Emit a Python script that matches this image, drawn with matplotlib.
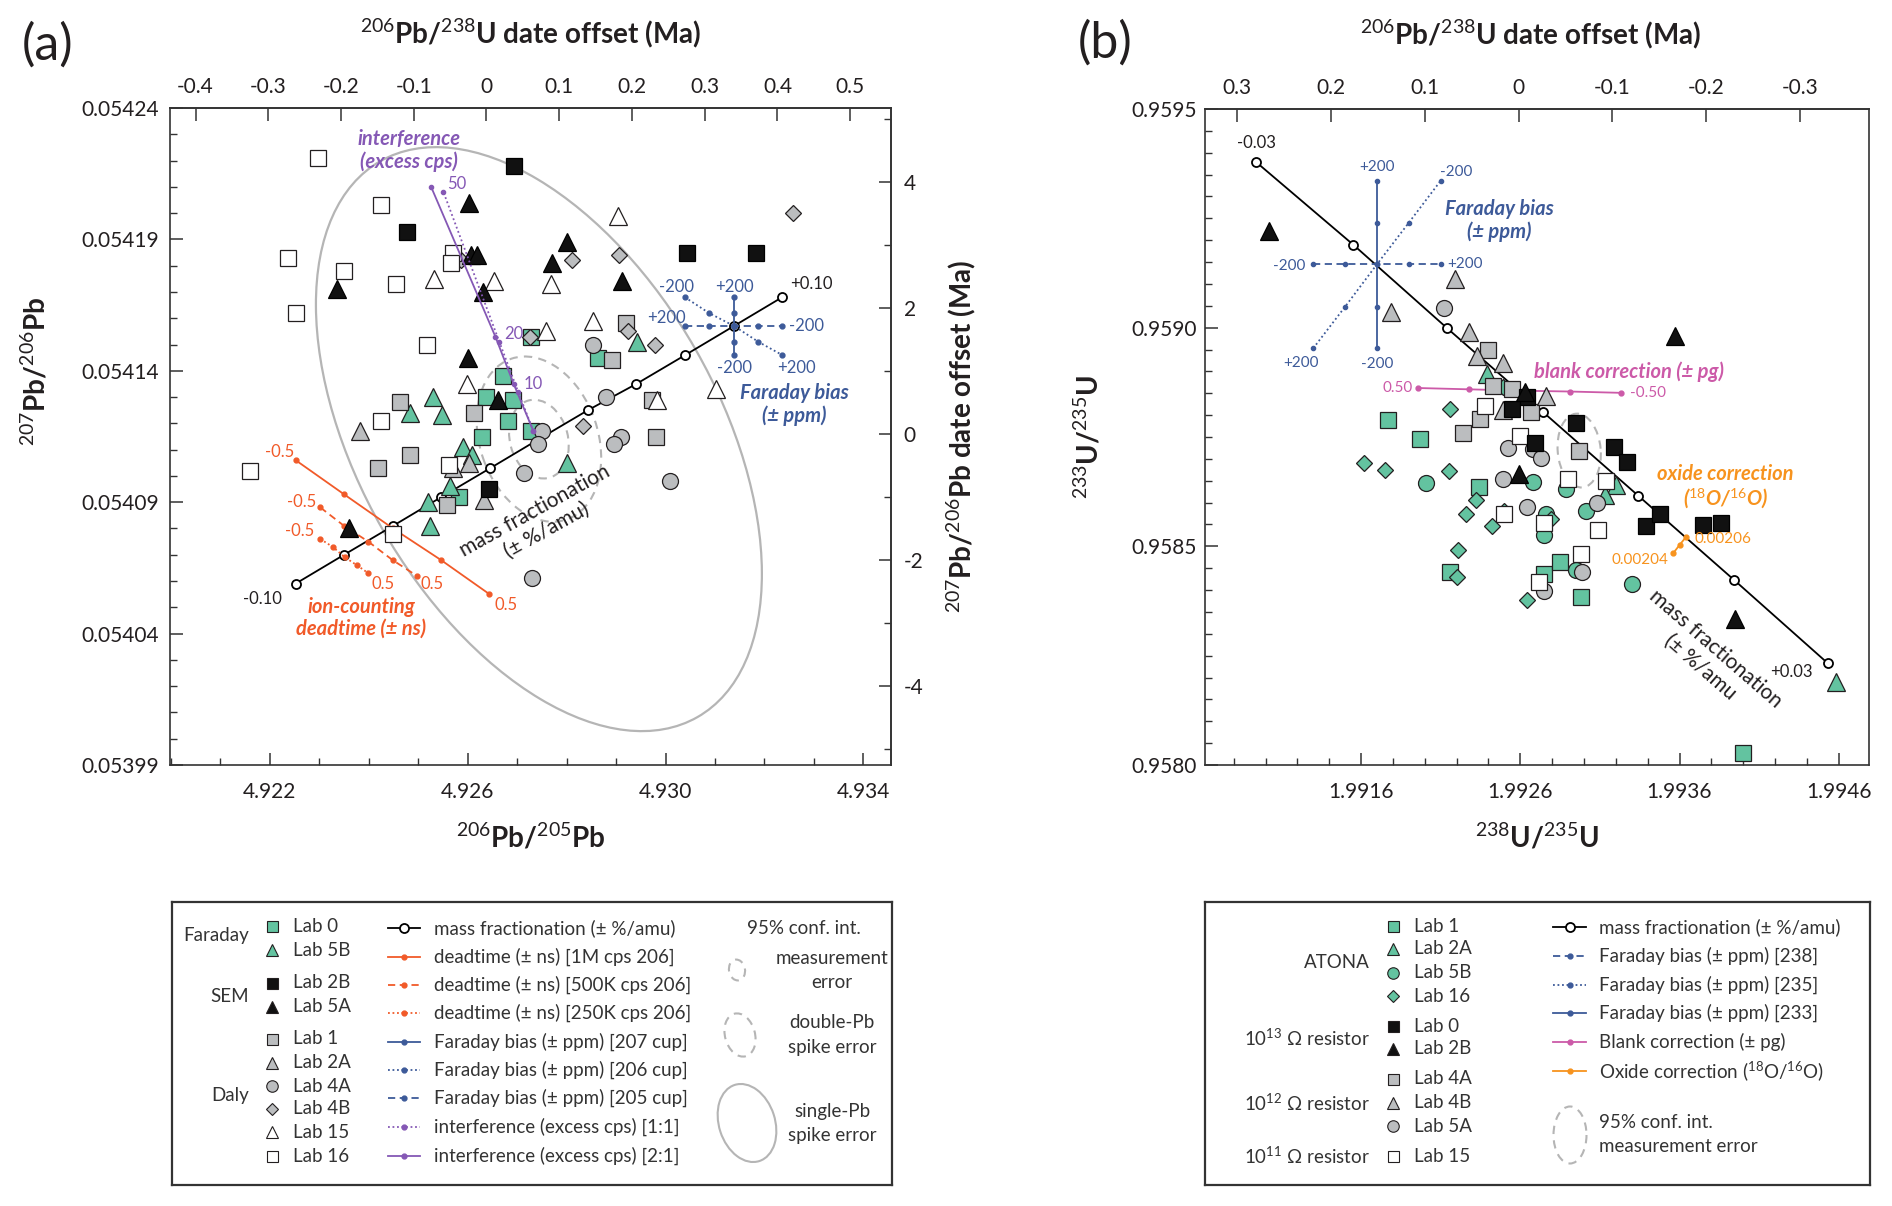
"""Pb (a) and U (b) isotope-ratio panels with correction vectors and error ellipses."""

import matplotlib

matplotlib.use("Agg")
import matplotlib.pyplot as plt
import matplotlib.transforms as mtransforms
from matplotlib.patches import Ellipse
from matplotlib.ticker import MultipleLocator, FixedLocator, FormatStrFormatter, FuncFormatter

plt.rcParams["font.family"] = ["Lato", "DejaVu Sans"]
plt.rcParams["mathtext.fontset"] = "custom"
plt.rcParams["mathtext.rm"] = "Lato"
plt.rcParams["mathtext.it"] = "Lato:italic"
plt.rcParams["mathtext.bf"] = "Lato:bold"
plt.rcParams["axes.unicode_minus"] = False

W, H = 1892, 1206
GREEN = "#63c3a0"
GRAY = "#bbbdbf"
BLACK = "#111111"
WHITE = "#ffffff"
EDGE = "#231f20"
RED = "#f15a29"
BLUE = "#3d5a99"
PURPLE = "#8558b5"
PINK = "#cc5aa8"
ORANGE = "#f7931e"
ELL = "#b5b5b5"
TXT = "#231f20"

# ---------------- panel (a): 206Pb/205Pb vs 207Pb/206Pb ----------------
a_lab0_x = [4.92671, 4.92637, 4.92691, 4.92681, 4.92629, 4.92727, 4.92582, 4.92729, 4.92863]
a_lab0_y = [0.054138, 0.054130, 0.054129, 0.054121, 0.054115, 0.054117, 0.054092, 0.054153, 0.054145]
a_lab5b_x = [4.92530, 4.92483, 4.92548, 4.92590, 4.92609, 4.92801, 4.92565, 4.92520, 4.92524, 4.92942]
a_lab5b_y = [0.054130, 0.054124, 0.054123, 0.054111, 0.054108, 0.054105, 0.054096, 0.054090, 0.054081, 0.054151]
a_lab1_x = [4.92921, 4.92892, 4.92464, 4.92613, 4.92484, 4.92418, 4.92559, 4.92972, 4.92981]
a_lab1_y = [0.054158, 0.054144, 0.054128, 0.054124, 0.054108, 0.054103, 0.054089, 0.054129, 0.054115]
a_lab2a_x = [4.92383, 4.92602, 4.92633, 4.92571]
a_lab2a_y = [0.054117, 0.054105, 0.054091, 0.054103]
a_lab4a_x = [4.92853, 4.92879, 4.92750, 4.92743, 4.92714, 4.92910, 4.92896, 4.93010, 4.92731]
a_lab4a_y = [0.054150, 0.054130, 0.054117, 0.054112, 0.054101, 0.054115, 0.054112, 0.054098, 0.054061]
a_lab4b_x = [4.92811, 4.92905, 4.92726, 4.92924, 4.92979, 4.92834, 4.93258, 4.92586]
a_lab4b_y = [0.054182, 0.054184, 0.054153, 0.054155, 0.054150, 0.054119, 0.054200, 0.054182]
a_lab15_x = [4.92904, 4.92532, 4.92654, 4.92768, 4.92853, 4.92759, 4.92598, 4.92983, 4.93103]
a_lab15_y = [0.054199, 0.054175, 0.054174, 0.054173, 0.054159, 0.054155, 0.054135, 0.054129, 0.054133]
a_lab16_x = [4.92298, 4.92425, 4.92236, 4.92350, 4.92456, 4.92253, 4.92518, 4.92425, 4.92159,
             4.92563, 4.92571, 4.92567, 4.92448]
a_lab16_y = [0.054221, 0.054203, 0.054183, 0.054178, 0.054173, 0.054162, 0.054150, 0.054121, 0.054102,
             0.054104, 0.054185, 0.054181, 0.054078]
a_lab2b_x = [4.92693, 4.92478, 4.92644, 4.93044, 4.93182]
a_lab2b_y = [0.054218, 0.054193, 0.054095, 0.054185, 0.054185]
a_lab5a_x = [4.92602, 4.92335, 4.92606, 4.92619, 4.92631, 4.92801, 4.92770, 4.92913, 4.92600, 4.92662, 4.92359]
a_lab5a_y = [0.054204, 0.054171, 0.054184, 0.054184, 0.054170, 0.054189, 0.054181, 0.054174, 0.054145,
             0.054129, 0.054080]

# mass fractionation, -0.10 ... +0.10 %/amu
a_mf_x = [4.92252, 4.92350, 4.92449, 4.92547, 4.92646, 4.92744, 4.92843, 4.92941, 4.93040, 4.93138, 4.93236]
a_mf_y = [0.054059, 0.054070, 0.054081, 0.054092, 0.054103, 0.054114, 0.054125, 0.054135, 0.054146,
          0.054157, 0.054168]
# ion-counting deadtime, -0.5 ... +0.5 ns
a_dt1m_x = [4.92252, 4.92350, 4.92449, 4.92546, 4.92644]
a_dt1m_y = [0.054106, 0.054093, 0.054080, 0.054068, 0.054055]
a_dt500_x = [4.92302, 4.92350, 4.92399, 4.92448, 4.92497]
a_dt500_y = [0.054088, 0.054081, 0.054075, 0.054068, 0.054062]
a_dt250_x = [4.92302, 4.92327, 4.92352, 4.92376, 4.92399]
a_dt250_y = [0.054076, 0.054073, 0.054069, 0.054066, 0.054063]
# Faraday bias, +200 ... -200 ppm
a_fb207_x = [4.93139, 4.93139, 4.93139, 4.93139, 4.93139]
a_fb207_y = [0.054168, 0.054162, 0.054157, 0.054151, 0.054146]
a_fb206_x = [4.93039, 4.93088, 4.93139, 4.93188, 4.93236]
a_fb206_y = [0.054168, 0.054162, 0.054157, 0.054151, 0.054146]
a_fb205_x = [4.93039, 4.93088, 4.93139, 4.93188, 4.93236]
a_fb205_y = [0.054157, 0.054157, 0.054157, 0.054157, 0.054157]
# interference, 0 / 10 / 20 / 50 excess cps
a_int11_x = [4.92733, 4.92702, 4.92664, 4.92551]
a_int11_y = [0.054117, 0.054132, 0.054151, 0.054208]
a_int21_x = [4.92733, 4.92693, 4.92656, 4.92526]
a_int21_y = [0.054117, 0.054135, 0.054153, 0.054210]
a_center = (4.92744, 0.054114)

a_xticks = [4.922, 4.926, 4.930, 4.934]
a_yticks = [0.05399, 0.05404, 0.05409, 0.05414, 0.05419, 0.05424]
a_top_ticks = [-0.4, -0.3, -0.2, -0.1, 0, 0.1, 0.2, 0.3, 0.4, 0.5]
a_right_ticks = [-4, -2, 0, 2, 4]

# ---------------- panel (b): 238U/235U vs 233U/235U ----------------
b_lab1_x = [1.99177, 1.99197, 1.99234, 1.99216, 1.99275, 1.99285, 1.99298, 1.99400]
b_lab1_y = [0.958789, 0.958746, 0.958636, 0.958442, 0.958437, 0.958465, 0.958385, 0.958028]
b_lab2a_x = [1.99239, 1.99320, 1.99313, 1.99458]
b_lab2a_y = [0.958893, 0.958641, 0.958617, 0.958189]
b_lab5b_x = [1.99201, 1.99268, 1.99289, 1.99301, 1.99276, 1.99275, 1.99295, 1.99330]
b_lab5b_y = [0.958644, 0.958647, 0.958631, 0.958580, 0.958573, 0.958527, 0.958445, 0.958414]
b_lab16_x = [1.99216, 1.99249, 1.99162, 1.99175, 1.99215, 1.99232, 1.99226, 1.99242, 1.99250, 1.99279,
             1.99221, 1.99220, 1.99264]
b_lab16_y = [0.958813, 0.958864, 0.958690, 0.958675, 0.958673, 0.958607, 0.958573, 0.958547, 0.958580,
             0.958562, 0.958491, 0.958431, 0.958378]
b_lab4a_x = [1.99240, 1.99243, 1.99255, 1.99267, 1.99235, 1.99224, 1.99297]
b_lab4a_y = [0.958949, 0.958866, 0.958859, 0.958808, 0.958792, 0.958760, 0.958719]
b_lab4b_x = [1.99219, 1.99179, 1.99228, 1.99233, 1.99249, 1.99276, 1.99249]
b_lab4b_y = [0.959111, 0.959036, 0.958990, 0.958936, 0.958919, 0.958844, 0.958811]
b_lab5a_x = [1.99212, 1.99252, 1.99268, 1.99273, 1.99249, 1.99264, 1.99308, 1.99299, 1.99275]
b_lab5a_y = [0.959046, 0.958724, 0.958723, 0.958703, 0.958654, 0.958590, 0.958598, 0.958442, 0.958399]
b_lab15_x = [1.99238, 1.99260, 1.99290, 1.99314, 1.99309, 1.99298, 1.99272, 1.99250, 1.99275]
b_lab15_y = [0.958821, 0.958752, 0.958654, 0.958649, 0.958537, 0.958483, 0.958419, 0.958573, 0.958554]
b_lab0_x = [1.99264, 1.99255, 1.99295, 1.99269, 1.99319, 1.99327, 1.99339, 1.99348, 1.99375, 1.99386]
b_lab0_y = [0.958842, 0.958813, 0.958782, 0.958736, 0.958726, 0.958693, 0.958547, 0.958573, 0.958549, 0.958554]
b_lab2b_x = [1.99357, 1.99259, 1.99395, 1.99263, 1.99102]
b_lab2b_y = [0.958982, 0.958665, 0.958334, 0.958854, 0.959222]

# mass fractionation, -0.03 ... +0.03 %/amu
b_mf_x = [1.99094, 1.99155, 1.99214, 1.99274, 1.99334, 1.99394, 1.99453]
b_mf_y = [0.959379, 0.959190, 0.958999, 0.958808, 0.958616, 0.958424, 0.958233]
# Faraday bias, ppm
b_fb233_x = [1.99170, 1.99170, 1.99170, 1.99170, 1.99170]
b_fb233_y = [0.959336, 0.959240, 0.959145, 0.959048, 0.958953]
b_fb238_x = [1.99130, 1.99150, 1.99170, 1.99190, 1.99210]
b_fb238_y = [0.959145, 0.959145, 0.959145, 0.959145, 0.959145]
b_fb235_x = [1.99130, 1.99150, 1.99170, 1.99190, 1.99210]
b_fb235_y = [0.958953, 0.959048, 0.959145, 0.959240, 0.959336]
# blank correction, 0.50 ... -0.50 pg ; oxide correction 0.00204 ... 0.00206
b_blank_x = [1.99196, 1.99228, 1.99259, 1.99291, 1.99323]
b_blank_y = [0.958862, 0.958859, 0.958856, 0.958854, 0.958851]
b_oxide_x = [1.99356, 1.99360, 1.99364]
b_oxide_y = [0.958484, 0.958503, 0.958521]
b_center = (1.99297, 0.958719)

b_xticks = [1.9916, 1.9926, 1.9936, 1.9946]
b_yticks = [0.9580, 0.9585, 0.9590, 0.9595]
b_top_ticks = [0.3, 0.2, 0.1, 0, -0.1, -0.2, -0.3]

# marker style per lab: (marker, size)
SQ, TRI, CIR, DIA = ("s", 11), ("^", 12.5), ("o", 11.5), ("D", 8)

a_series = [
    ("Lab 0", a_lab0_x, a_lab0_y, SQ, GREEN), ("Lab 5B", a_lab5b_x, a_lab5b_y, TRI, GREEN),
    ("Lab 1", a_lab1_x, a_lab1_y, SQ, GRAY), ("Lab 2A", a_lab2a_x, a_lab2a_y, TRI, GRAY),
    ("Lab 4A", a_lab4a_x, a_lab4a_y, CIR, GRAY), ("Lab 4B", a_lab4b_x, a_lab4b_y, DIA, GRAY),
    ("Lab 15", a_lab15_x, a_lab15_y, TRI, WHITE), ("Lab 16", a_lab16_x, a_lab16_y, SQ, WHITE),
    ("Lab 2B", a_lab2b_x, a_lab2b_y, SQ, BLACK), ("Lab 5A", a_lab5a_x, a_lab5a_y, TRI, BLACK),
]
b_series = [
    ("Lab 1", b_lab1_x, b_lab1_y, SQ, GREEN), ("Lab 2A", b_lab2a_x, b_lab2a_y, TRI, GREEN),
    ("Lab 5B", b_lab5b_x, b_lab5b_y, CIR, GREEN), ("Lab 16", b_lab16_x, b_lab16_y, DIA, GREEN),
    ("Lab 4A", b_lab4a_x, b_lab4a_y, SQ, GRAY), ("Lab 4B", b_lab4b_x, b_lab4b_y, TRI, GRAY),
    ("Lab 5A", b_lab5a_x, b_lab5a_y, CIR, GRAY), ("Lab 15", b_lab15_x, b_lab15_y, SQ, WHITE),
    ("Lab 0", b_lab0_x, b_lab0_y, SQ, BLACK), ("Lab 2B", b_lab2b_x, b_lab2b_y, TRI, BLACK),
]


def rect(x0, y0, x1, y1):
    return [x0 / W, 1 - y1 / H, (x1 - x0) / W, (y1 - y0) / H]


def scatter_labs(ax, series):
    for _, xs, ys, (m, ms), face in series:
        ax.plot(xs, ys, ls="none", marker=m, ms=ms, mfc=face,
                mec=EDGE if face != BLACK else "black", mew=0.9, zorder=3)


def vector(ax, xs, ys, color, ls, z=2.6, ms=3.5):
    ax.plot(xs, ys, color=color, ls=ls, lw=1.3, marker="o", ms=ms, mfc=color, mec=color, zorder=z)


def px_ellipse(ax, center, w, h, angle, dashed=True, lw=1.5):
    tr = mtransforms.ScaledTranslation(center[0], center[1], ax.transData)
    e = Ellipse((0, 0), w, h, angle=angle, transform=tr, fill=False, ec=ELL, lw=lw,
                ls=(0, (4, 3)) if dashed else "-", zorder=1)
    ax.add_artist(e)


def style_axis(ax):
    for s in ax.spines.values():
        s.set_linewidth(1.2)
        s.set_color("#333333")
    ax.tick_params(which="both", direction="in", colors="#333333", labelcolor=TXT, labelsize=15)
    ax.tick_params(which="major", length=9, width=1.1)
    ax.tick_params(which="minor", length=5, width=1.0)


def num_fmt(decimals):
    return FuncFormatter(lambda v, _: "0" if abs(v) < 1e-9 else f"{v:.{decimals}f}")


fig = plt.figure(figsize=(W / 100, H / 100), dpi=100)

# ===================== panel (a) =====================
ax = fig.add_axes(rect(170, 108, 891, 765))
scatter_labs(ax, a_series)
ax.plot(a_mf_x, a_mf_y, color="black", lw=1.3, marker="o", ms=6.5, mfc="white", mec="black",
        mew=1.3, zorder=2.5)
vector(ax, a_dt1m_x, a_dt1m_y, RED, "-")
vector(ax, a_dt500_x, a_dt500_y, RED, (0, (4, 2.5)))
vector(ax, a_dt250_x, a_dt250_y, RED, (0, (1, 1.5)))
vector(ax, a_fb207_x, a_fb207_y, BLUE, "-", z=4)
vector(ax, a_fb206_x, a_fb206_y, BLUE, (0, (1, 1.5)), z=4)
vector(ax, a_fb205_x, a_fb205_y, BLUE, (0, (4, 2.5)), z=4)
vector(ax, a_int11_x, a_int11_y, PURPLE, (0, (1, 1.5)), z=4, ms=3)
vector(ax, a_int21_x, a_int21_y, PURPLE, "-", z=4, ms=3)

ax.set_xlim(4.91998, 4.93456)
ax.set_ylim(0.05399, 0.05424)
px_ellipse(ax, a_center, 640, 361, -60.3, dashed=False, lw=1.6)
px_ellipse(ax, a_center, 170, 118, -71)
px_ellipse(ax, a_center, 80, 58, -75)

small = dict(fontsize=12, ha="center", va="center", zorder=6)
ax.text(4.92185, 0.054053, "-0.10", color=TXT, **small)
ax.text(4.93294, 0.054173, "+0.10", color=TXT, **small)
for xx, yy, s in [(4.92219, 0.054109, "-0.5"), (4.92265, 0.054090, "-0.5"), (4.92261, 0.054079, "-0.5"),
                  (4.92678, 0.054051, "0.5"), (4.92528, 0.054059, "0.5"), (4.92428, 0.054059, "0.5")]:
    ax.text(xx, yy, s, color=RED, **small)
for xx, yy, s in [(4.93139, 0.054172, "+200"), (4.93139, 0.054141, "-200"), (4.93002, 0.054160, "+200"),
                  (4.93285, 0.054157, "-200"), (4.93022, 0.054172, "-200"), (4.93264, 0.054141, "+200")]:
    ax.text(xx, yy, s, color=BLUE, **small)
for xx, yy, s in [(4.92577, 0.054211, "50"), (4.92693, 0.054154, "20"), (4.92732, 0.054135, "10")]:
    ax.text(xx, yy, s, color=PURPLE, **small)

title_kw = dict(fontsize=14.5, fontweight="bold", style="italic", ha="center", va="center",
                linespacing=1.15, zorder=6)
ax.text(4.92482, 0.054224, "interference\n(excess cps)", color=PURPLE, **title_kw)
ax.text(4.93261, 0.054127, "Faraday bias\n(± ppm)", color=BLUE, **title_kw)
ax.text(4.92385, 0.054046, "ion-counting\ndeadtime (± ns)", color=RED, **title_kw)
ax.text(4.92748, 0.054083, "mass fractionation\n(± %/amu)", color=TXT, fontsize=15, rotation=29,
        ha="center", va="center", rotation_mode="anchor", linespacing=1.2, zorder=6)

style_axis(ax)
ax.tick_params(top=False, right=False, pad=8)
ax.tick_params(axis="x", pad=12)
ax.xaxis.set_major_locator(FixedLocator(a_xticks))
ax.xaxis.set_minor_locator(MultipleLocator(0.001))
ax.xaxis.set_major_formatter(FormatStrFormatter("%.3f"))
ax.yaxis.set_major_locator(FixedLocator(a_yticks))
ax.yaxis.set_minor_locator(MultipleLocator(0.00001))
ax.yaxis.set_major_formatter(FormatStrFormatter("%.5f"))

top_a = ax.secondary_xaxis("top", functions=(lambda x: (x - 4.92638) / 0.01471,
                                             lambda m: m * 0.01471 + 4.92638))
top_a.set_xticks(a_top_ticks)
top_a.xaxis.set_major_formatter(num_fmt(1))
style_axis(top_a)
top_a.tick_params(pad=8)

right_a = ax.secondary_yaxis("right", functions=(lambda y: (y - 0.054116) / 0.000024,
                                                 lambda m: m * 0.000024 + 0.054116))
right_a.set_yticks(a_right_ticks)
right_a.yaxis.set_minor_locator(MultipleLocator(1))
right_a.yaxis.set_major_formatter(num_fmt(0))
style_axis(right_a)
right_a.tick_params(pad=9)

lab_kw = dict(fontsize=20, fontweight="bold", ha="center", va="center", color=TXT)
ax.text(0.5, -0.110, r"$^{206}$Pb/$^{205}$Pb", transform=ax.transAxes, **lab_kw)
ax.text(0.5, 1.114, r"$^{206}$Pb/$^{238}$U date offset (Ma)", transform=ax.transAxes, **lab_kw)
ax.text(-0.186, 0.6, r"$^{207}$Pb/$^{206}$Pb", transform=ax.transAxes, rotation=90, **lab_kw)
ax.text(1.097, 0.5, r"$^{207}$Pb/$^{206}$Pb date offset (Ma)", transform=ax.transAxes, rotation=90,
        **lab_kw)

# ===================== panel (b) =====================
bx = fig.add_axes(rect(1205, 109, 1869, 765))
scatter_labs(bx, b_series)
bx.plot(b_mf_x, b_mf_y, color="black", lw=1.3, marker="o", ms=6.5, mfc="white", mec="black",
        mew=1.3, zorder=2.5)
vector(bx, b_fb233_x, b_fb233_y, BLUE, "-", ms=3)
vector(bx, b_fb238_x, b_fb238_y, BLUE, (0, (4, 2.5)), ms=3)
vector(bx, b_fb235_x, b_fb235_y, BLUE, (0, (1, 1.5)), ms=3)
vector(bx, b_blank_x, b_blank_y, PINK, "-", ms=3.5)
vector(bx, b_oxide_x, b_oxide_y, ORANGE, "-", z=4, ms=3.5)

bx.set_xlim(1.99062, 1.99479)
bx.set_ylim(0.9580, 0.9595)
px_ellipse(bx, b_center, 74, 43, 95)

smallb = dict(fontsize=11, ha="center", va="center", zorder=6)
bx.text(1.99094, 0.959422, "-0.03", color=TXT, fontsize=12, ha="center", va="center")
bx.text(1.99430, 0.958212, "+0.03", color=TXT, fontsize=12, ha="center", va="center")
for xx, yy, s in [(1.99170, 0.959368, "+200"), (1.99170, 0.958918, "-200"), (1.99115, 0.959141, "-200"),
                  (1.99225, 0.959145, "+200"), (1.99220, 0.959357, "-200"), (1.99122, 0.958920, "+200")]:
    bx.text(xx, yy, s, color=BLUE, **smallb)
bx.text(1.99183, 0.958862, "0.50", color=PINK, **smallb)
bx.text(1.99340, 0.958851, "-0.50", color=PINK, **smallb)
bx.text(1.99335, 0.958468, "0.00204", color=ORANGE, **smallb)
bx.text(1.99387, 0.958516, "0.00206", color=ORANGE, **smallb)

bx.text(1.99247, 0.959244, "Faraday bias\n(± ppm)", color=BLUE, **title_kw)
bx.text(1.99328, 0.958900, "blank correction (± pg)", color=PINK, **title_kw)
bx.text(1.99389, 0.958635, "oxide correction\n" + r"($^{18}$O/$^{16}$O)", color=ORANGE, **title_kw)
bx.text(1.99378, 0.958245, "mass fractionation\n(± %/amu", color=TXT, fontsize=15, rotation=-41,
        ha="center", va="center", rotation_mode="anchor", linespacing=1.2, zorder=6)

style_axis(bx)
bx.tick_params(top=False, right=False, pad=6)
bx.tick_params(axis="x", pad=12)
bx.xaxis.set_major_locator(FixedLocator(b_xticks))
bx.xaxis.set_minor_locator(MultipleLocator(0.0002))
bx.xaxis.set_major_formatter(FormatStrFormatter("%.4f"))
bx.yaxis.set_major_locator(FixedLocator(b_yticks))
bx.yaxis.set_minor_locator(MultipleLocator(0.00005))
bx.yaxis.set_major_formatter(FormatStrFormatter("%.4f"))

top_b = bx.secondary_xaxis("top", functions=(lambda x: (1.99259 - x) * 169.8,
                                             lambda m: 1.99259 - m / 169.8))
top_b.set_xticks(b_top_ticks)
top_b.xaxis.set_major_formatter(num_fmt(1))
style_axis(top_b)
top_b.tick_params(pad=8)

bx.text(0.5, -0.110, r"$^{238}$U/$^{235}$U", transform=bx.transAxes, **lab_kw)
bx.text(0.49, 1.114, r"$^{206}$Pb/$^{238}$U date offset (Ma)", transform=bx.transAxes, **lab_kw)
bx.text(-0.176, 0.5, r"$^{233}$U/$^{235}$U", transform=bx.transAxes, rotation=90, **lab_kw)

fig.text(48 / W, 1 - 45 / H, "(a)", fontsize=36, ha="center", va="center", color=TXT)
fig.text(1105 / W, 1 - 43 / H, "(b)", fontsize=36, ha="center", va="center", color=TXT)

# ===================== legends =====================
LEG_FS = 13.5
LEG_C = "#333333"


def legend_box(x0, x1):
    lg = fig.add_axes(rect(x0, 902, x1, 1185))
    lg.set_xlim(0, x1 - x0)
    lg.set_ylim(283, 0)
    lg.set_xticks([])
    lg.set_yticks([])
    for s in lg.spines.values():
        s.set_linewidth(1.6)
        s.set_color("#333333")
    return lg


def leg_marker(lg, x, y, style, face, label, text_x):
    (m, ms) = style
    lg.plot([x], [y], ls="none", marker=m, ms=ms * 0.72, mfc=face, mec=EDGE, mew=0.8)
    lg.text(text_x, y, label, fontsize=LEG_FS, color=LEG_C, va="center", ha="left")


def leg_line(lg, x0, x1, y, color, ls, label, text_x, open_marker=False):
    xs = [x0, (x0 + x1) / 2, x1]
    ys = [y, y, y]
    lg.plot(xs, ys, color=color, ls=ls, lw=1.3)
    if open_marker:
        lg.plot([xs[1]], [y], marker="o", ms=6.5, mfc="white", mec="black", mew=1.3)
    else:
        lg.plot([xs[1]], [y], marker="o", ms=3.5, mfc=color, mec=color)
    lg.text(text_x, y, label, fontsize=LEG_FS, color=LEG_C, va="center", ha="left")


# ---- legend (a)
la = legend_box(172, 892)
a_groups = ["Faraday", "SEM", "Daly"]
a_group_y = [33, 94, 194]
for g, gy in zip(a_groups, a_group_y):
    la.text(77, gy, g, fontsize=LEG_FS, color=LEG_C, ha="right", va="center")
a_leg_order = ["Lab 0", "Lab 5B", "Lab 2B", "Lab 5A", "Lab 1", "Lab 2A", "Lab 4A", "Lab 4B", "Lab 15", "Lab 16"]
a_leg_rows = [24, 48, 81, 105, 137, 161, 184, 207, 230, 254]
a_lookup = {s[0]: s for s in a_series}
for name, ry in zip(a_leg_order, a_leg_rows):
    _, _, _, st, face = a_lookup[name]
    leg_marker(la, 99.5, ry, st, face, name, 121)

a_leg_lines = [
    ("mass fractionation (± %/amu)", "black", "-", True),
    ("deadtime (± ns) [1M cps 206]", RED, "-", False),
    ("deadtime (± ns) [500K cps 206]", RED, (0, (4, 2.5)), False),
    ("deadtime (± ns) [250K cps 206]", RED, (0, (1, 1.5)), False),
    ("Faraday bias (± ppm) [207 cup]", BLUE, "-", False),
    ("Faraday bias (± ppm) [206 cup]", BLUE, (0, (1, 1.5)), False),
    ("Faraday bias (± ppm) [205 cup]", BLUE, (0, (4, 2.5)), False),
    ("interference (excess cps) [1:1]", PURPLE, (0, (1, 1.5)), False),
    ("interference (excess cps) [2:1]", PURPLE, "-", False),
]
a_line_rows = [26, 55, 83, 111, 140, 168, 196, 225, 254]
for (lbl, c, ls, om), ry in zip(a_leg_lines, a_line_rows):
    leg_line(la, 216, 248, ry, c, ls, lbl, 262, open_marker=om)

la.text(632, 27, "95% conf. int.", fontsize=LEG_FS, color=LEG_C, ha="center", va="center")
a_ell_labels = ["measurement\nerror", "double-Pb\nspike error", "single-Pb\nspike error"]
a_ell_y = [68, 133, 221]
a_ell_x = [565, 568, 575]
a_ell_size = [(21, 16, 80, True), (44, 30, 75, True), (80, 56, 72, False)]
for lbl, ey, ex, (w_, h_, ang, dsh) in zip(a_ell_labels, a_ell_y, a_ell_x, a_ell_size):
    la.add_patch(Ellipse((ex, ey), w_, h_, angle=ang, fill=False, ec=ELL, lw=1.5,
                         ls=(0, (4, 3)) if dsh else "-"))
    la.text(660, ey, lbl, fontsize=LEG_FS, color=LEG_C, ha="center", va="center", linespacing=1.5)

# ---- legend (b)
lb = legend_box(1205, 1870)
b_groups = ["ATONA", r"10$^{13}$ Ω resistor", r"10$^{12}$ Ω resistor", r"10$^{11}$ Ω resistor"]
b_group_y = [60, 136, 201, 254]
for g, gy in zip(b_groups, b_group_y):
    lb.text(165, gy, g, fontsize=LEG_FS, color=LEG_C, ha="right", va="center")
b_leg_order = ["Lab 1", "Lab 2A", "Lab 5B", "Lab 16", "Lab 0", "Lab 2B", "Lab 4A", "Lab 4B", "Lab 5A", "Lab 15"]
b_leg_rows = [24, 47, 71, 94, 124, 147, 177, 201, 224, 254]
b_lookup = {s[0]: s for s in b_series}
for name, ry in zip(b_leg_order, b_leg_rows):
    _, _, _, st, face = b_lookup[name]
    leg_marker(lb, 188, ry, st, face, name, 209)

b_leg_lines = [
    ("mass fractionation (± %/amu)", "black", "-", True),
    ("Faraday bias (± ppm) [238]", BLUE, (0, (4, 2.5)), False),
    ("Faraday bias (± ppm) [235]", BLUE, (0, (1, 1.5)), False),
    ("Faraday bias (± ppm) [233]", BLUE, "-", False),
    ("Blank correction (± pg)", PINK, "-", False),
    (r"Oxide correction ($^{18}$O/$^{16}$O)", ORANGE, "-", False),
]
b_line_rows = [25, 54, 83, 111, 140, 169]
for (lbl, c, ls, om), ry in zip(b_leg_lines, b_line_rows):
    leg_line(lb, 348, 381, ry, c, ls, lbl, 394, open_marker=om)

lb.add_patch(Ellipse((365, 233), 57, 33, angle=90, fill=False, ec=ELL, lw=1.5, ls=(0, (4, 3))))
lb.text(394, 233, "95% conf. int.\nmeasurement error", fontsize=LEG_FS, color=LEG_C, ha="left",
        va="center", linespacing=1.5)

fig.savefig("out.png", dpi=100)
